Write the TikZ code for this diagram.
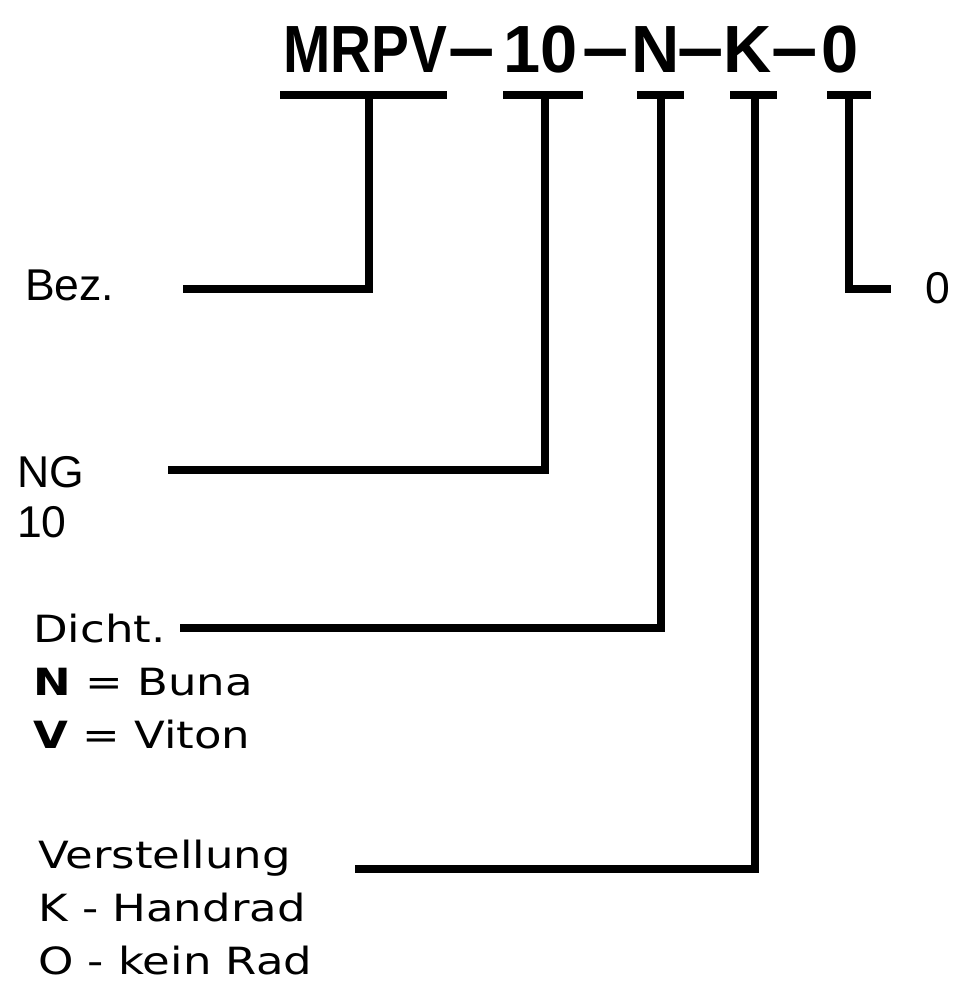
\documentclass[tikz,border=0pt]{standalone}
\usepackage{fontspec}
\setmainfont{Liberation Sans}
\newfontfamily\codefont{Liberation Sans}
\newfontfamily\codenarrow[FakeStretch=0.85]{Liberation Sans}
\newfontfamily\tagfont{Liberation Sans}
\newfontfamily\notefont[FakeStretch=1.2]{DejaVu Sans}
\newcommand\codedash{\scalebox{1.25}[1.1]{–}}

\tikzset{
  code/.style={font=\codefont\bfseries\fontsize{57}{60}\selectfont, inner sep=0pt, anchor=base},
  tag/.style={font=\tagfont\fontsize{38}{40}\selectfont, inner sep=0pt, anchor=base west},
  note/.style={font=\notefont\fontsize{32}{34}\selectfont, inner sep=0pt, anchor=base west},
  bar/.style={line width=2.3mm},
  lead/.style={line width=2.3mm, line join=miter},
}

\begin{document}
\begin{tikzpicture}[x=0.3mm, y=-0.3mm]
  \useasboundingbox (0,0) rectangle (954,987);
  \fill[white] (0,0) rectangle (954,987);

  % Typenschluessel
  \node[code, font=\codenarrow\bfseries\fontsize{57}{60}\selectfont] (tMRPV) at (365,73) {MRPV};
  \node[code] (s1) at (472,73) {\codedash};
  \node[code] (t10) at (541,73) {10};
  \node[code] (s2) at (606,73) {\codedash};
  \node[code] (tN) at (656,73) {N};
  \node[code] (s3) at (701,73) {\codedash};
  \node[code] (tK) at (748,73) {K};
  \node[code] (s4) at (795,73) {\codedash};
  \node[code] (t0) at (840,73) {0};

  % Unterstriche
  \draw[bar] (280,95) -- (447,95);
  \draw[bar] (503,95) -- (583,95);
  \draw[bar] (637,95) -- (684,95);
  \draw[bar] (730,95) -- (777,95);
  \draw[bar] (827,95) -- (871,95);
  \coordinate (b1) at (369,95);
  \coordinate (b2) at (545,95);
  \coordinate (b3) at (661,95);
  \coordinate (b4) at (755,95);
  \coordinate (b5) at (849,95);

  % Beschriftungen
  \node[tag] (lBez) at (25,300) {Bez.};
  \node[tag] (lNG) at (17,487) {NG};
  \node[tag] (lNGval) at (17,537) {10};
  \node[note] (lDicht) at (33,642) {Dicht.};
  \node[note] (lDichtN) at (33,695) {\textbf{N} = Buna};
  \node[note] (lDichtV) at (33,748) {\textbf{V} = Viton};
  \node[note] (lVerst) at (38,868) {Verstellung};
  \node[note] (lVerstK) at (38,921) {K - Handrad};
  \node[note] (lVerstO) at (38,974) {O - kein Rad};
  \node[tag] (lNull) at (925,303) {0};

  % Fuehrungslinien
  \coordinate (e1) at (183,289);
  \coordinate (e2) at (168,470);
  \coordinate (e3) at (180,628);
  \coordinate (e4) at (355,869);
  \coordinate (e5) at (891,289);
  \draw[lead] (b1) |- (e1);
  \draw[lead] (b2) |- (e2);
  \draw[lead] (b3) |- (e3);
  \draw[lead] (b4) |- (e4);
  \draw[lead] (b5) |- (e5);
\end{tikzpicture}
\end{document}
